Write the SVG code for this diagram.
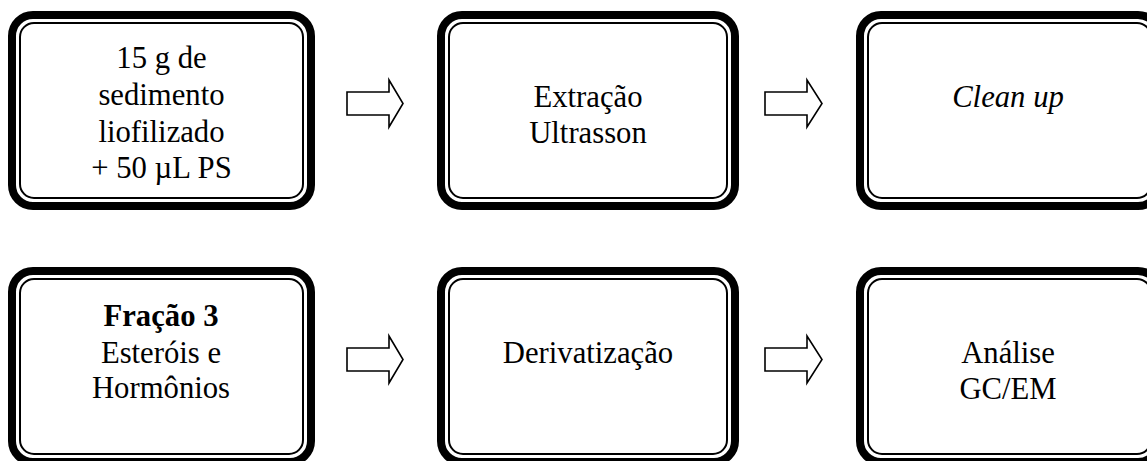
<svg xmlns="http://www.w3.org/2000/svg" width="1147" height="461" viewBox="0 0 1147 461">
<style>
.o{fill:#fff;stroke:#000;stroke-width:8}
.i{fill:none;stroke:#000;stroke-width:2}
.t{font-family:"Liberation Serif","Times New Roman",serif;font-size:30.7px;fill:#000;text-anchor:middle}
.b{font-weight:bold}
.it{font-style:italic}
.a{fill:#fff;stroke:#000;stroke-width:1.6;stroke-linejoin:miter}
</style>
<rect width="1147" height="461" fill="#fff"/>
<g id="n1">
<rect class="o" x="12" y="15" width="299" height="191" rx="21"/>
<rect class="i" x="20" y="23" width="283" height="175" rx="14"/>
<text class="t" x="161.5" y="68">15 g de</text>
<text class="t" x="161.5" y="105">sedimento</text>
<text class="t" x="161.5" y="142">liofilizado</text>
<text class="t" x="161.5" y="178">+ 50 µL PS</text>
</g>
<g id="n2">
<rect class="o" x="441" y="15" width="294" height="191" rx="21"/>
<rect class="i" x="449" y="23" width="278" height="175" rx="14"/>
<text class="t" x="588" y="107">Extração</text>
<text class="t" x="588" y="143">Ultrasson</text>
</g>
<g id="n3">
<rect class="o" x="860" y="15" width="299" height="191" rx="21"/>
<rect class="i" x="868" y="23" width="283" height="175" rx="14"/>
<text class="t it" x="1008" y="107">Clean up</text>
</g>
<g id="n4">
<rect class="o" x="12" y="271" width="299" height="191" rx="21"/>
<rect class="i" x="20" y="279" width="283" height="175" rx="14"/>
<text class="t b" x="161" y="326">Fração 3</text>
<text class="t" x="161" y="363">Esteróis e</text>
<text class="t" x="161" y="398">Hormônios</text>
</g>
<g id="n5">
<rect class="o" x="441" y="271" width="294" height="191" rx="21"/>
<rect class="i" x="449" y="279" width="278" height="175" rx="14"/>
<text class="t" x="588" y="363">Derivatização</text>
</g>
<g id="n6">
<rect class="o" x="860" y="271" width="299" height="191" rx="21"/>
<rect class="i" x="868" y="279" width="283" height="175" rx="14"/>
<text class="t" x="1008" y="363">Análise</text>
<text class="t" x="1008" y="399">GC/EM</text>
</g>
<g id="connectors">
<polygon class="a" points="347,92 389,92 389,80 403,103.5 389,127 389,115 347,115"/>
<polygon class="a" points="765,92 807,92 807,80 822,103.5 807,127 807,115 765,115"/>
<polygon class="a" points="347,348 389,348 389,336 403,359.5 389,383 389,371 347,371"/>
<polygon class="a" points="765,348 807,348 807,336 822,359.5 807,383 807,371 765,371"/>
</g>
</svg>
